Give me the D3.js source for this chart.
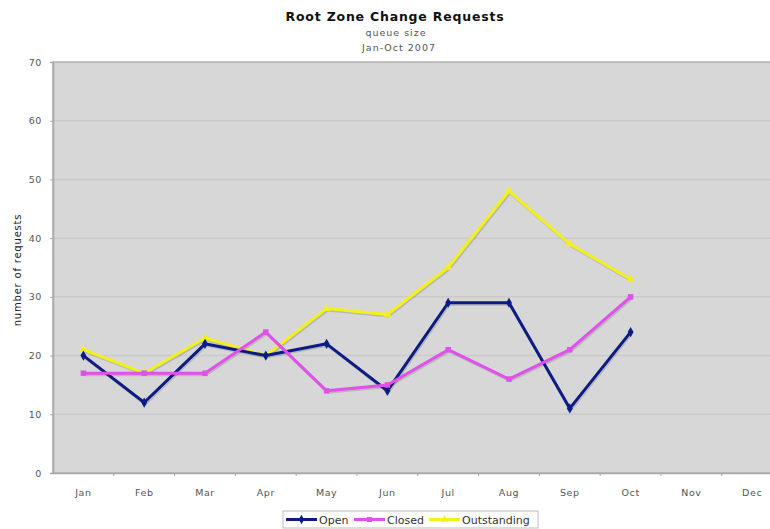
<!DOCTYPE html>
<html><head><meta charset="utf-8">
<script src="https://cdn.jsdelivr.net/npm/d3@7"></script>
<style>body{margin:0;background:#fff;}svg{display:block;font-family:"DejaVu Sans",Verdana,sans-serif;}</style>
</head><body>
<svg id="chart" width="770" height="529"></svg>
<script>
const months = ["Jan","Feb","Mar","Apr","May","Jun","Jul","Aug","Sep","Oct","Nov","Dec"];
const openVals = [20,12,22,20,22,14,29,29,11,24];
const closedVals = [17,17,17,24,14,15,21,16,21,30];
const outstandingVals = [21,17,23,20,28,27,35,48,39,33];
const yTicks = [0,10,20,30,40,50,60,70];
const seriesNames = ["Open","Closed","Outstanding"];
const seriesColors = ["#0c1c84","#e050ea","#f4f01c"];
const seriesShapes = [d3.symbolDiamond, d3.symbolSquare, d3.symbolTriangle];

const svg = d3.select("#chart");
const m = {left:53, top:62, right:-12.6, bottom:56};
const W = 770, H = 529;
const x = d3.scaleBand().domain(months).range([m.left, W - m.right]);
const y = d3.scaleLinear().domain([0,70]).range([H - m.bottom, m.top]);

// title
svg.append("text").attr("x",395).attr("y",20.5).attr("text-anchor","middle")
  .attr("font-size",12.5).attr("font-weight","bold").attr("letter-spacing",0.8).attr("fill","#111").text("Root Zone Change Requests");
svg.append("text").attr("x",396).attr("y",35.5).attr("text-anchor","middle")
  .attr("font-size",9.5).attr("letter-spacing",1).attr("fill","#555").text("queue size");
svg.append("text").attr("x",399).attr("y",51).attr("text-anchor","middle")
  .attr("font-size",9.5).attr("letter-spacing",1).attr("fill","#555").text("Jan-Oct 2007");

// plot background
svg.append("rect").attr("x",m.left).attr("y",m.top).attr("width",W - m.right - m.left)
  .attr("height",y(0)-y(70)).attr("fill","#d7d7d7").attr("stroke","#b4b4b4").attr("stroke-width",1.5);

// gridlines
svg.append("g").selectAll("line").data(yTicks.slice(1,-1)).join("line")
  .attr("x1",m.left).attr("x2",W).attr("y1",d=>y(d)).attr("y2",d=>y(d))
  .attr("stroke","#cacaca").attr("stroke-width",1.5);

// y axis
const ya = svg.append("g").attr("transform",`translate(${m.left},0)`)
  .call(d3.axisLeft(y).tickValues(yTicks).tickSize(3).tickPadding(8));
ya.select(".domain").attr("stroke","#a8a8a8").attr("stroke-width",1.5);
ya.selectAll(".tick line").attr("stroke","#a8a8a8");
ya.selectAll("text").attr("font-size",9.5).attr("letter-spacing",0.6).attr("fill","#555").attr("font-family","DejaVu Sans");

// x axis
const xa = svg.append("g").attr("transform",`translate(0,${y(0)})`)
  .call(d3.axisBottom(x).tickSize(0).tickPadding(16));
xa.select(".domain").attr("stroke","#a8a8a8").attr("stroke-width",1.5);
xa.selectAll("text").attr("font-size",9.5).attr("letter-spacing",0.6).attr("fill","#555").attr("font-family","DejaVu Sans");
svg.append("g").selectAll("line").data(months.slice(1)).join("line")
  .attr("x1",d=>x(d)).attr("x2",d=>x(d)).attr("y1",y(0)).attr("y2",y(0)+3)
  .attr("stroke","#a8a8a8");

// y label
svg.append("text").attr("transform","translate(21,270) rotate(-90)").attr("text-anchor","middle")
  .attr("font-size",10).attr("letter-spacing",0.8).attr("fill","#222").text("number of requests");

// series
const data = [openVals, closedVals, outstandingVals];
const line = d3.line().x((d,i)=>x(months[i])+x.bandwidth()/2).y(d=>y(d));
const order = [2,0,1];
order.forEach(k=>{
  const g = svg.append("g");
  g.append("path").datum(data[k]).attr("d",line).attr("fill","none")
    .attr("stroke","rgba(0,0,0,0.15)").attr("stroke-width",3).attr("transform","translate(1,1.5)");
  g.append("path").datum(data[k]).attr("d",line).attr("fill","none")
    .attr("stroke",seriesColors[k]).attr("stroke-width",3).attr("stroke-linejoin","round");
  g.selectAll("path.pt").data(data[k]).join("path").attr("class","pt")
    .attr("transform",(d,i)=>`translate(${x(months[i])+x.bandwidth()/2},${y(d)})`)
    .attr("d",d3.symbol().type(seriesShapes[k]).size(30)).attr("fill",seriesColors[k]);
});

// legend
const lg = svg.append("g");
lg.append("rect").attr("x",283).attr("y",511).attr("width",255).attr("height",17)
  .attr("fill","#fff").attr("stroke","#bbb");
const lx = [286, 354, 429];
seriesNames.forEach((n,k)=>{
  lg.append("line").attr("x1",lx[k]).attr("x2",lx[k]+31).attr("y1",519.5).attr("y2",519.5)
    .attr("stroke",seriesColors[k]).attr("stroke-width",3);
  lg.append("path").attr("transform",`translate(${lx[k]+15.5},519.5)`)
    .attr("d",d3.symbol().type(seriesShapes[k]).size(25)).attr("fill",seriesColors[k]);
  lg.append("text").attr("x",lx[k]+33).attr("y",524).attr("font-size",11).attr("fill","#333").text(n);
});
</script>
</body></html>
